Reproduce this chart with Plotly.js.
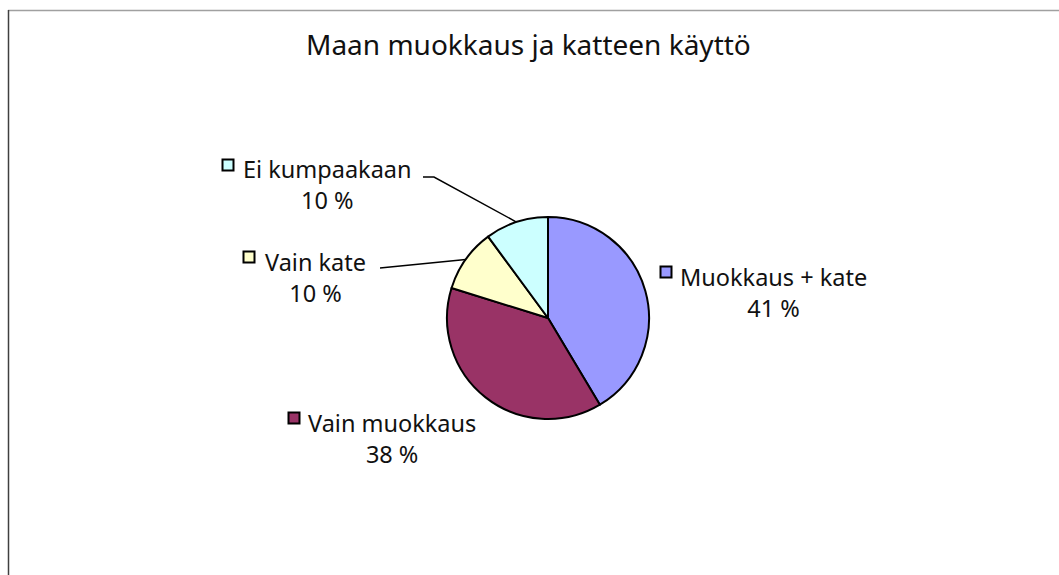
<!DOCTYPE html>
<html>
<head>
<meta charset="utf-8">
<script src="https://cdn.plot.ly/plotly-3.0.1.min.js"></script>
<style>html,body{margin:0;padding:0;background:#fff;}#chart{width:1059px;height:575px;}</style>
</head>
<body>
<div id="chart"></div>
<script>
const categories = ["Muokkaus + kate", "Vain muokkaus", "Vain kate", "Ei kumpaakaan"];
const values = [41, 38, 10, 10];
const colors = ["#9999FF", "#993366", "#FFFFCC", "#CCFFFF"];
const chartTitle = "Maan muokkaus ja katteen käyttö";

const W = 1059, H = 575;
const FONT = "Noto Sans, Open Sans, sans-serif";
// pie layout (pixels)
const cx = 548, cy = 318, R = 101;
// label layout (pixels): text centre x, block centre y
const labelPos = [
  {x: 773, y: 292},
  {x: 392, y: 438},
  {x: 315, y: 277},
  {x: 327, y: 185}
];
const textHalfWidth = [94, 85, 53, 86];
// leader lines start (label side), pixels; null = none
const leaderStart = [null, null, [380, 268], [423, 177]];
const leaderElbow = [null, null, null, [434, 177]];

const px = x => x / W;
const py = y => 1 - y / H;

const total = values.reduce((a, b) => a + b, 0);
const pct = values.map(v => Math.round(v / total * 100));

const shapes = [];
const annotations = [];

// border
shapes.push({type: 'line', xref: 'paper', yref: 'paper', x0: px(8), x1: px(W), y0: py(10.5), y1: py(10.5), line: {color: '#a0a0a0', width: 1.5}});
shapes.push({type: 'line', xref: 'paper', yref: 'paper', x0: px(8.5), x1: px(8.5), y0: py(10), y1: py(H), line: {color: '#404040', width: 1.5}});

let cum = 0;
categories.forEach((c, i) => {
  const mid = (cum + values[i] / 2) / total * 2 * Math.PI;
  cum += values[i];
  const lp = labelPos[i];
  annotations.push({
    xref: 'paper', yref: 'paper', x: px(lp.x), y: py(lp.y), xanchor: 'center', yanchor: 'middle',
    text: c + '<br>' + pct[i] + ' %', showarrow: false, align: 'center',
    font: {family: FONT, size: 23.5, color: '#111'}
  });
  // legend key
  const kx = lp.x - textHalfWidth[i] - 13, ky = lp.y - 20;
  shapes.push({type: 'rect', xref: 'paper', yref: 'paper', x0: px(kx - 5.5), x1: px(kx + 5.5), y0: py(ky - 5.5), y1: py(ky + 5.5), fillcolor: colors[i], line: {color: '#000', width: 2}});
  if (leaderStart[i]) {
    const ex = cx + R * Math.sin(mid), ey = cy - R * Math.cos(mid);
    let path = 'M ' + px(leaderStart[i][0]) + ' ' + py(leaderStart[i][1]);
    if (leaderElbow[i]) path += ' L ' + px(leaderElbow[i][0]) + ' ' + py(leaderElbow[i][1]);
    path += ' L ' + px(ex) + ' ' + py(ey);
    shapes.push({type: 'path', xref: 'paper', yref: 'paper', path: path, line: {color: '#000', width: 1.5}});
  }
});

annotations.push({
  xref: 'paper', yref: 'paper', x: px(528), y: py(44), xanchor: 'center', yanchor: 'middle',
  text: chartTitle, showarrow: false, font: {family: FONT, size: 28, color: '#111'}
});

const data = [{
  type: 'pie', labels: categories, values: values, sort: false, direction: 'clockwise', rotation: 0,
  marker: {colors: colors, line: {color: '#000', width: 2}},
  textinfo: 'none', hoverinfo: 'none', showlegend: false,
  domain: {x: [px(cx - R), px(cx + R)], y: [py(cy + R), py(cy - R)]}
}];

const layout = {
  width: W, height: H, margin: {l: 0, r: 0, t: 0, b: 0},
  paper_bgcolor: '#fff', plot_bgcolor: '#fff',
  showlegend: false, shapes: shapes, annotations: annotations
};
Plotly.newPlot('chart', data, layout, {displayModeBar: false, staticPlot: true});
</script>
</body>
</html>
